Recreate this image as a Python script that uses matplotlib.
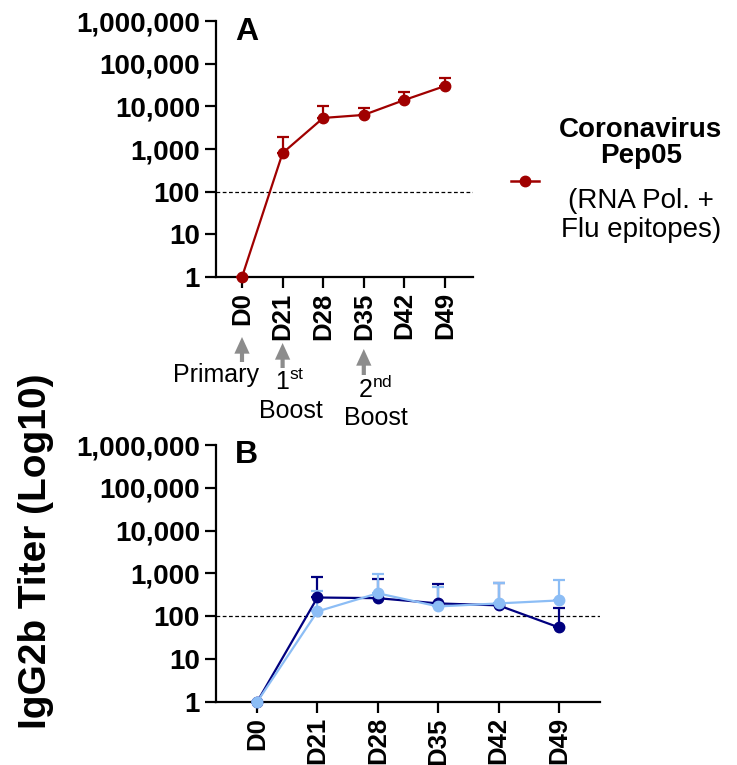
import numpy as np
import matplotlib
matplotlib.use("Agg")
import matplotlib.pyplot as plt
from matplotlib.lines import Line2D

plt.rcParams['font.family'] = ['Liberation Sans', 'DejaVu Sans']
plt.rcParams['mathtext.fontset'] = 'custom'
plt.rcParams['mathtext.rm'] = 'Liberation Sans'

# sampling days
days = ["D0", "D21", "D28", "D35", "D42", "D49"]

# A: Coronavirus Pep05 (geometric mean titer + upper error)
pep05_mean = [1, 805, 5350, 6300, 14100, 30000]
pep05_upper = [1, 1910, 10200, 9000, 22000, 47000]

# B: two groups
navy_mean = [1, 275, 265, 200, 180, 55]
navy_upper = [1, 810, 730, 560, 590, 160]
light_mean = [1, 130, 345, 170, 200, 235]
light_upper = [1, 380, 960, 475, 590, 690]

yticks = [1, 10, 100, 1000, 10000, 100000, 1000000]
ytick_labels = ["1", "10", "100", "1,000", "10,000", "100,000", "1,000,000"]

RED = "#a00000"
NAVY = "#00007f"
LIGHT = "#8cbdf5"

fig = plt.figure(figsize=(7.37, 7.65), dpi=100)
ax_a = fig.add_axes([0.2931, 0.6379, 0.3487, 0.3346])
ax_b = fig.add_axes([0.2931, 0.0824, 0.5210, 0.3359])


def style_axis(ax, xlim):
    ax.set_yscale('log')
    ax.set_ylim(1, 1e6)
    ax.set_xlim(*xlim)
    ax.set_yticks(yticks)
    ax.set_yticklabels(ytick_labels)
    ax.yaxis.set_minor_locator(matplotlib.ticker.NullLocator())
    ax.set_xticks(range(len(days)))
    ax.set_xticklabels(days, rotation=90)
    for s in ['top', 'right']:
        ax.spines[s].set_visible(False)
    for s in ['left', 'bottom']:
        ax.spines[s].set_linewidth(1.6)
    ax.tick_params(length=8, width=1.6, pad=3.5, labelsize=20)
    ax.tick_params(axis='x', labelsize=18.5, pad=3)
    for lab in ax.get_xticklabels() + ax.get_yticklabels():
        lab.set_fontweight('bold')
    ax.axhline(100, color='black', lw=0.9, ls=(0, (3, 2)), zorder=1)


def draw_series(ax, mean, upper, color):
    x = np.arange(len(mean))
    mean = np.array(mean, dtype=float)
    upper = np.array(upper, dtype=float)
    err = [np.zeros_like(mean), upper - mean]
    ax.errorbar(x, mean, yerr=err, color=color, lw=1.6, marker='o', ms=7.5,
                capsize=4.5, capthick=1.6, elinewidth=1.6, clip_on=False, zorder=3)


style_axis(ax_a, (-0.64, 5.69))
draw_series(ax_a, pep05_mean, pep05_upper, RED)

style_axis(ax_b, (-0.68, 5.68))
draw_series(ax_b, navy_mean, navy_upper, NAVY)
draw_series(ax_b, light_mean, light_upper, LIGHT)

# panel letters
fig.text(235 / 737, 1 - 40 / 765, "A", fontsize=23, fontweight='bold', va='baseline')
fig.text(235 / 737, 1 - 463 / 765, "B", fontsize=23, fontweight='bold', va='baseline')

# shared y label
fig.text(36 / 737, 1 - 551 / 765, "IgG2b Titer (Log10)", rotation=90, fontsize=28,
         fontweight='bold', ha='center', va='center')

# legend for panel A
fig.add_artist(Line2D([511 / 737, 539 / 737], [1 - 181 / 765] * 2, color=RED, lw=1.8,
                      transform=fig.transFigure))
fig.add_artist(Line2D([525 / 737], [1 - 181 / 765], color=RED, marker='o', ms=7.5,
                      transform=fig.transFigure))
legend_x = 641 / 737
fig.text(legend_x, 1 - 137 / 765, "Coronavirus", fontsize=20, fontweight='bold',
         ha='center', va='baseline')
fig.text(legend_x, 1 - 163 / 765, "Pep05", fontsize=20, fontweight='bold',
         ha='center', va='baseline')
fig.text(legend_x, 1 - 208 / 765, "(RNA Pol. +", fontsize=20, ha='center', va='baseline')
fig.text(legend_x, 1 - 237 / 765, "Flu epitopes)", fontsize=20, ha='center', va='baseline')

# immunisation arrows under panel A
arrow_kw = dict(arrowstyle='simple,head_width=1.1,head_length=1.2,tail_width=0.3',
                color='#8c8c8c', mutation_scale=10, shrinkA=0, shrinkB=0, lw=0)
for xi, top, bottom in [(0, 337, 362), (1, 343, 368), (3, 349, 375)]:
    ax_a.annotate('', xy=(xi, 1 - top / 765), xytext=(xi, 1 - bottom / 765),
                  xycoords=('data', 'figure fraction'),
                  textcoords=('data', 'figure fraction'), arrowprops=arrow_kw)

note_kw = dict(xycoords=('data', 'figure fraction'), fontsize=18, ha='center',
               va='baseline', annotation_clip=False)
ax_a.annotate("Primary", xy=(-0.64, 1 - 382 / 765), **note_kw)
ax_a.annotate(r"1$^{\mathrm{st}}$", xy=(1.18, 1 - 390 / 765), **note_kw)
ax_a.annotate("Boost", xy=(1.21, 1 - 418 / 765), **note_kw)
ax_a.annotate(r"2$^{\mathrm{nd}}$", xy=(3.28, 1 - 398 / 765), **note_kw)
ax_a.annotate("Boost", xy=(3.30, 1 - 425 / 765), **note_kw)

fig.savefig("out.png", dpi=100)
